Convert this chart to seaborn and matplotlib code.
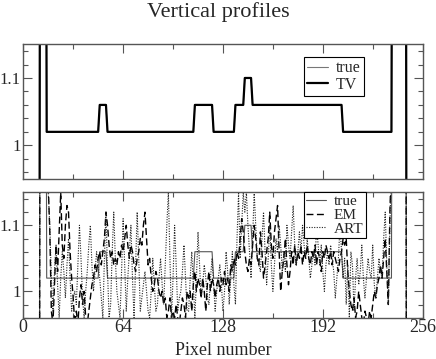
import numpy as np
import pandas as pd
import seaborn as sns
import matplotlib
matplotlib.use("Agg")
from matplotlib import pyplot as plt

# piecewise-constant phantom profile: value and run length (pixels)
true_vals = [0.0, 2.0, 1.02, 1.06, 1.02, 1.06, 1.02, 1.06, 1.10, 1.06, 1.02, 2.0, 0.0]
true_lens = [11, 4, 34, 5, 56, 12, 14, 6, 5, 58, 32, 9, 10]
tv_vals = [0.0, 2.0, 1.02, 1.06, 1.02, 1.06, 1.02, 1.06, 1.10, 1.06, 1.02, 2.0, 0.0]
tv_lens = [11, 4, 34, 5, 56, 12, 14, 6, 5, 58, 32, 9, 10]

# reconstructions inside the head, pixels 16..236
em_inner = [
    1.16, 1.09, 0.97, 0.95, 1.01, 1.07, 1.03, 1.09, 1.15, 1.07,
    1.05, 1.10, 1.13, 1.12, 1.06, 1.02, 0.99, 0.95, 0.97, 0.95,
    0.99, 1.01, 0.98, 1.00, 0.96, 0.95, 0.97, 0.99, 1.01, 1.02,
    1.04, 1.03, 1.05, 1.06, 1.04, 1.06, 1.08, 1.12, 1.10, 1.07,
    1.05, 1.06, 1.04, 1.05, 1.04, 1.06, 1.05, 1.07, 1.06, 1.08,
    1.10, 1.07, 1.05, 1.07, 1.06, 1.04, 1.03, 1.05, 1.06, 1.08,
    1.07, 1.10, 1.12, 1.08, 1.04, 1.05, 1.02, 1.00, 1.01, 1.03,
    1.02, 1.00, 0.99, 1.00, 0.98, 0.99, 0.96, 0.97, 0.99, 0.96,
    0.97, 0.96, 0.98, 0.96, 0.95, 0.97, 0.99, 0.98, 0.96, 1.00,
    0.99, 1.00, 0.97, 1.01, 1.03, 1.00, 1.02, 1.01, 0.99, 1.02,
    1.00, 0.97, 1.01, 1.03, 1.00, 1.02, 1.01, 0.99, 1.01, 1.02,
    1.00, 1.02, 1.01, 1.03, 1.01, 1.02, 1.00, 1.04, 1.03, 1.05,
    1.04, 1.06, 1.05, 1.08, 1.11, 1.09, 1.06, 1.04, 1.03, 1.05,
    1.04, 1.07, 1.10, 1.08, 1.05, 1.04, 1.09, 1.06, 1.02, 1.04,
    1.06, 1.08, 1.12, 1.07, 1.05, 1.09, 1.11, 1.13, 1.06, 1.00,
    1.03, 1.05, 1.08, 1.04, 1.01, 1.03, 1.06, 1.04, 1.07, 1.04,
    1.06, 1.05, 1.07, 1.04, 1.06, 1.05, 1.07, 1.05, 1.04, 1.06,
    1.05, 1.07, 1.04, 1.06, 1.05, 1.03, 1.06, 1.05, 1.07, 1.06,
    1.05, 1.06, 1.04, 1.06, 1.05, 1.04, 1.03, 1.05, 1.06, 1.08,
    1.07, 1.08, 1.03, 1.00, 0.98, 0.97, 0.99, 0.96, 0.97, 1.00,
    0.98, 0.96, 0.95, 0.97, 0.96, 0.95, 0.97, 0.96, 0.98, 1.00,
    0.99, 1.01, 1.02, 1.04, 1.02, 1.05, 1.08, 1.03, 0.98, 1.12, 1.20,
]
art_inner = [
    1.15, 1.10, 1.02, 0.97, 1.03, 1.07, 1.01, 0.96, 1.02, 1.06,
    1.03, 0.99, 1.04, 1.08, 1.02, 0.97, 0.99, 1.00, 0.98, 1.04,
    1.10, 1.05, 0.99, 0.96, 1.00, 1.03, 1.07, 1.10, 1.04, 1.00,
    1.03, 1.06, 1.04, 1.02, 0.99, 0.96, 1.05, 1.12, 1.03, 0.96,
    0.98, 1.06, 1.12, 1.05, 1.00, 0.98, 0.96, 1.03, 1.11, 1.04,
    0.97, 1.02, 1.06, 1.10, 1.02, 0.96, 1.04, 1.12, 1.05, 0.97,
    0.99, 1.01, 1.03, 1.00, 0.97, 0.96, 1.00, 1.05, 1.01, 0.97,
    0.98, 1.02, 1.05, 1.01, 0.98, 1.04, 1.10, 1.15, 1.05, 0.96,
    1.02, 1.10, 1.04, 0.97, 0.99, 1.00, 1.03, 1.07, 1.02, 0.97,
    0.97, 1.02, 1.06, 1.01, 0.96, 1.02, 1.09, 1.04, 0.99, 1.01,
    1.04, 1.02, 0.99, 0.98, 1.02, 1.05, 1.01, 0.97, 1.00, 1.02,
    1.04, 1.01, 0.97, 1.00, 1.06, 1.03, 0.98, 1.02, 1.06, 1.01,
    0.98, 1.08, 1.15, 1.05, 1.10, 1.15, 1.12, 1.15, 1.10, 1.06,
    1.02, 1.08, 1.15, 1.10, 1.05, 1.04, 1.03, 1.08, 1.12, 1.06,
    1.01, 1.05, 1.10, 1.04, 1.00, 1.04, 1.08, 1.06, 1.10, 1.07,
    1.03, 1.06, 1.03, 1.10, 1.07, 1.05, 1.09, 1.13, 1.07, 1.04,
    1.06, 1.09, 1.06, 1.10, 1.07, 1.05, 1.08, 1.05, 1.02, 1.04,
    1.06, 1.04, 1.10, 1.07, 1.04, 1.07, 1.03, 1.00, 1.04, 1.06,
    1.04, 1.07, 1.05, 1.03, 0.99, 1.02, 1.05, 1.10, 1.06, 1.02,
    1.05, 0.98, 1.04, 0.96, 1.06, 1.04, 0.97, 1.02, 1.05, 1.01,
    1.03, 1.07, 1.02, 0.99, 1.02, 1.05, 1.03, 1.02, 1.07, 1.01,
    0.99, 1.02, 1.05, 1.03, 1.02, 1.08, 1.12, 1.04, 0.98, 1.10, 1.20,
]
left_edge = [0.0] * 11 + [2.0] * 5       # pixels 0..15
right_edge = [2.0] * 9 + [0.0] * 10      # pixels 237..255

pix = np.arange(256)
true_prof = np.repeat(true_vals, true_lens)
tv_prof = np.repeat(tv_vals, tv_lens)
em_prof = np.array(left_edge + em_inner + right_edge)
art_prof = np.array(left_edge + art_inner + right_edge)

df = pd.DataFrame({"pixel": pix, "true": true_prof, "TV": tv_prof,
                   "EM": em_prof, "ART": art_prof})

sns.set_style("ticks")
plt.rcParams["font.family"] = ["Liberation Serif", "DejaVu Serif"]

fig = plt.figure(figsize=(4.36, 3.59), dpi=100)
ax1 = fig.add_axes([0.0534, 0.5014, 0.916, 0.3752])
ax2 = fig.add_axes([0.0534, 0.115, 0.916, 0.3493])

frame_col = "#555555"
for ax, ylo in ((ax1, 0.95), (ax2, 0.963)):
    ax.set_xlim(0, 256)
    ax.set_ylim(ylo, 1.15)
    ax.set_xticks([0, 64, 128, 192, 256])
    ax.set_xticks([32, 96, 160, 224], minor=True)
    ax.set_yticks([1.0, 1.1])
    ax.set_yticks([0.96, 0.98, 1.02, 1.04, 1.06, 1.08, 1.12, 1.14], minor=True)
    ax.set_yticklabels(["1", "1.1"])
    ax.tick_params(which="both", direction="in", top=True, right=True,
                   color=frame_col, width=0.8)
    ax.tick_params(axis="y", labelsize=12, pad=2)
    ax.tick_params(axis="x", labelsize=13, pad=1)
    ax.tick_params(which="major", length=6.5)
    ax.tick_params(which="minor", length=3.5)
    for s in ax.spines.values():
        s.set_color(frame_col)
        s.set_linewidth(1.0)

sns.lineplot(data=df, x="pixel", y="true", ax=ax1, color="#777777", lw=0.8, label="true")
sns.lineplot(data=df, x="pixel", y="TV", ax=ax1, color="black", lw=1.6, label="TV")
ax1.set_xticklabels([])
ax1.set_xlabel("")
ax1.set_ylabel("")
leg1 = ax1.legend(loc="upper left", bbox_to_anchor=(0.703, 0.906), borderaxespad=0,
                  fontsize=11.5, handlelength=1.3, handletextpad=0.5, labelspacing=0.05,
                  borderpad=0.2, fancybox=False, framealpha=1, edgecolor="black")
leg1.get_frame().set_linewidth(0.8)

sns.lineplot(data=df, x="pixel", y="true", ax=ax2, color="#555555", lw=0.8, label="true")
sns.lineplot(data=df, x="pixel", y="EM", ax=ax2, color="black", lw=1.0,
             dashes=False, linestyle=(0, (5, 2.5)), label="EM")
sns.lineplot(data=df, x="pixel", y="ART", ax=ax2, color="#222222", lw=0.8,
             dashes=False, linestyle=(0, (1, 1.3)), label="ART")
ax2.set_xticklabels(["0", "64", "128", "192", "256"])
ax2.set_xlabel("Pixel number", fontsize=13, labelpad=4)
ax2.set_ylabel("")
leg2 = ax2.legend(loc="upper left", bbox_to_anchor=(0.703, 1.0), borderaxespad=0,
                  fontsize=11, handlelength=1.3, handletextpad=0.5, labelspacing=0.0,
                  borderpad=0.15, fancybox=False, framealpha=1, edgecolor="black")
leg2.get_frame().set_linewidth(0.8)

fig.suptitle("Vertical profiles", fontsize=16, y=0.995, va="top")

fig.savefig("out.png", dpi=100)
